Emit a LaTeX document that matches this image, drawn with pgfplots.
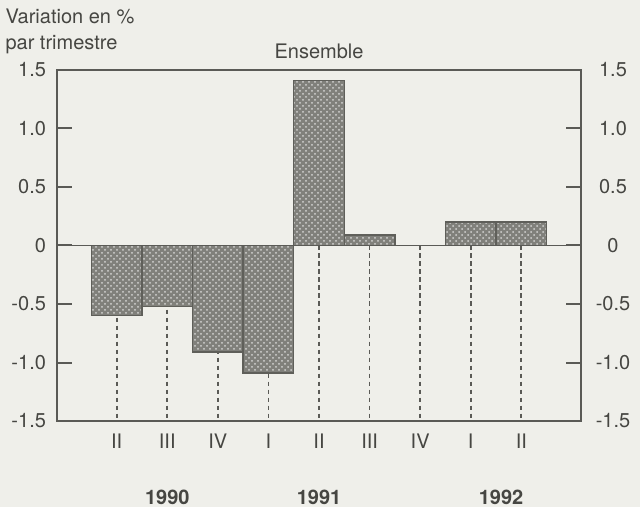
\documentclass[border=0pt]{standalone}
\usepackage{fontspec}
\setmainfont{TeX Gyre Heros}
\usepackage{pgfplots}
\pgfplotsset{compat=1.18}
\usetikzlibrary{patterns}
\definecolor{bg}{RGB}{239,239,234}
\definecolor{barfill}{RGB}{128,128,123}
\definecolor{baredge}{RGB}{95,95,90}
\definecolor{axcol}{RGB}{90,90,86}
\definecolor{txt}{RGB}{70,70,66}

\begin{document}
\begin{tikzpicture}[font=\fontsize{10}{12}\selectfont, text=txt]
\fill[bg] (-28.5pt,-43pt) rectangle (291.5pt,210.5pt);
\begin{axis}[
  scale only axis,
  width=262pt, height=175.5pt,
  xmin=-1.18, xmax=9.18,
  ymin=-1.5, ymax=1.5,
  clip=false,
  axis line style={axcol, line width=0.8pt},
  ytick={-1.5,-1,-0.5,0,0.5,1,1.5},
  yticklabels={-1.5,-1.0,-0.5,0,0.5,1.0,1.5},
  yticklabel pos=left,
  ytick pos=both,
  tick align=inside,
  major tick length=7.5pt,
  y tick style={axcol, line width=1pt},
  xtick={0,...,8},
  xticklabels={II,III,IV,I,II,III,IV,I,II},
  xtick pos=bottom,
  x tick style={draw=none},
  xticklabel style={yshift=-3pt},
  yticklabel style={xshift=-2pt},
  title={Ensemble},
  title style={at={(0.5,1)}, anchor=south, yshift=-4pt},
]
  % dashed guides below zero
  \addplot[axcol, dash pattern=on 2.4pt off 1.6pt, line width=0.9pt, unbounded coords=jump] coordinates {
    (0,0) (0,-1.5) (0,nan)
    (1,0) (1,-1.5) (1,nan)
    (2,0) (2,-1.5) (2,nan)
    (3,0) (3,-1.5) (3,nan)
    (4,0) (4,-1.5) (4,nan)
    (5,0) (5,-1.5) (5,nan)
    (6,0) (6,-1.5) (6,nan)
    (7,0) (7,-1.5) (7,nan)
    (8,0) (8,-1.5)
  };
  \addplot[ybar, bar width=1, fill=barfill, draw=baredge, line width=0.7pt,
    postaction={pattern=crosshatch dots, pattern color=white!65!barfill}] coordinates {
    (0,-0.60)
    (1,-0.52)
    (2,-0.91)
    (3,-1.09)
    (4,1.41)
    (5,0.09)
    (6,0)
    (7,0.20)
    (8,0.20)
  };
  \addplot[axcol, line width=0.8pt] coordinates {(-1.18,0) (9.18,0)};
  \node[anchor=north west, align=left, inner sep=0pt] at (rel axis cs:-0.099,1.175) {Variation en \%\\[1pt]par trimestre};
  \node[font=\fontsize{10}{12}\selectfont\bfseries] at (axis cs:1,-1.5) [yshift=-38pt] {1990};
  \node[font=\fontsize{10}{12}\selectfont\bfseries] at (axis cs:4,-1.5) [yshift=-38pt] {1991};
  \node[font=\fontsize{10}{12}\selectfont\bfseries] at (axis cs:7.6,-1.5) [yshift=-38pt] {1992};
\end{axis}
\begin{axis}[
  scale only axis,
  width=262pt, height=175.5pt,
  xmin=-1.18, xmax=9.18,
  ymin=-1.5, ymax=1.5,
  hide x axis,
  axis y line*=right,
  y axis line style={draw=none},
  major tick length=0pt,
  ytick={-1.5,-1,-0.5,0,0.5,1,1.5},
  yticklabels={-1.5,-1.0,-0.5,0,0.5,1.0,1.5},
  yticklabel style={anchor=center, xshift=16pt},
]
  \addplot[draw=none] coordinates {(0,0)};
\end{axis}
\end{tikzpicture}
\end{document}
